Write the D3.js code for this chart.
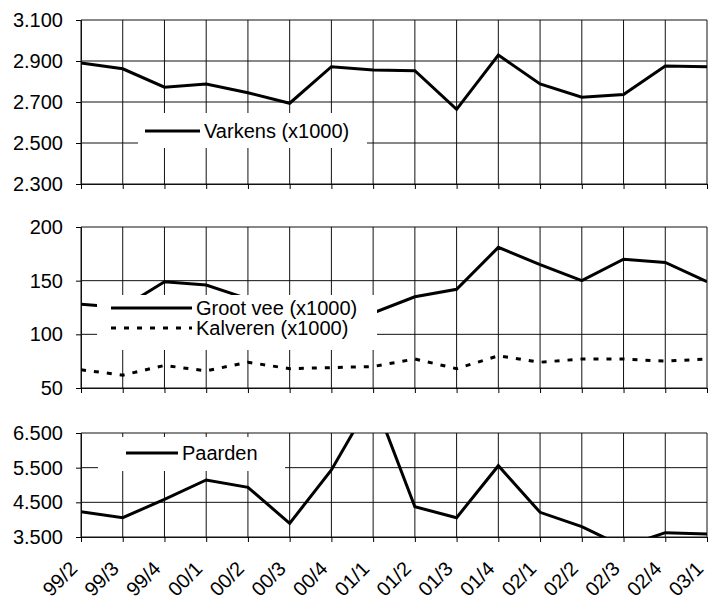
<!DOCTYPE html>
<html>
<head>
<meta charset="utf-8">
<script src="https://cdn.jsdelivr.net/npm/d3@7"></script>
<style>
  body { margin: 0; background: #fff; }
  svg { display: block; font-family: Arial, "Liberation Sans", sans-serif; }
</style>
</head>
<body>
<script>
// kwartalen
const quarters = ['99/2','99/3','99/4','00/1','00/2','00/3','00/4','01/1',
                  '01/2','01/3','01/4','02/1','02/2','02/3','02/4','03/1']

const varkens  = [2890, 2862, 2772, 2788, 2745, 2694, 2872, 2856, 2853, 2664, 2929, 2788, 2723, 2737, 2876, 2872]
const grootVee = [128, 125, 149, 146, 133, 126, 123, 120, 135, 142, 181, 165, 150, 170, 167, 149]
const kalveren = [67, 62, 71, 66, 74, 68, 69, 70, 77, 68, 80, 74, 77, 77, 75, 77]
const paarden  = [4230, 4057, 4587, 5144, 4933, 3894, 5432, 7520, 4374, 4057, 5557, 4212, 3798, 3220, 3624, 3585]

const ticksVarkens = [2300, 2500, 2700, 2900, 3100]
const ticksVee     = [50, 100, 150, 200]
const ticksPaarden = [3500, 4500, 5500, 6500]

const W = 717, H = 609
const left = 81, right = 707

const nl = d3.formatLocale({decimal: ',', thousands: '.', grouping: [3], currency: ['€', '']})
const fmt = nl.format(',d')

const svg = d3.select('body').append('svg').attr('width', W).attr('height', H)

const x = d3.scalePoint().domain(quarters).range([left, right])

// one panel = grid + axes + lines + legend
function panel(id, top, bottom, ticks, series, legend, showLabels) {
  const y = d3.scaleLinear().domain([ticks[0], ticks[ticks.length - 1]]).range([bottom, top])
  const g = svg.append('g')

  g.append('clipPath').attr('id', 'clip' + id)
    .append('rect').attr('x', left).attr('y', top).attr('width', right - left).attr('height', bottom - top)

  // vertical grid
  g.append('g').selectAll('line').data(quarters).join('line')
    .attr('x1', d => x(d)).attr('x2', d => x(d))
    .attr('y1', top).attr('y2', bottom)
    .attr('stroke', '#111').attr('stroke-width', 1)
  // horizontal grid
  g.append('g').selectAll('line').data(ticks).join('line')
    .attr('x1', left).attr('x2', right)
    .attr('y1', d => y(d)).attr('y2', d => y(d))
    .attr('stroke', '#111').attr('stroke-width', 1)

  const ya = g.append('g').attr('transform', 'translate(' + left + ',0)')
    .call(d3.axisLeft(y).tickValues(ticks).tickSize(5).tickPadding(13).tickFormat(fmt))
  ya.select('.domain').attr('stroke', '#111')
  ya.selectAll('text').attr('font-size', 20).attr('fill', '#000').attr('font-family', 'Arial, "Liberation Sans", sans-serif')

  const xa = g.append('g').attr('transform', 'translate(0,' + bottom + ')')
    .call(d3.axisBottom(x).tickSize(5))
  xa.select('.domain').attr('stroke', '#111')
  if (showLabels) {
    xa.selectAll('text')
      .attr('font-size', 20).attr('fill', '#000')
      .attr('font-family', 'Arial, "Liberation Sans", sans-serif')
      .attr('text-anchor', 'end')
      .attr('dy', 0).attr('y', 0)
      .attr('transform', 'translate(-3,33) rotate(-45)')
  } else {
    xa.selectAll('text').remove()
  }

  const line = d3.line().x((d, i) => x(quarters[i])).y(d => y(d))
  series.forEach(s => {
    g.append('path').datum(s.values)
      .attr('clip-path', 'url(#clip' + id + ')')
      .attr('d', line)
      .attr('fill', 'none').attr('stroke', '#000').attr('stroke-width', 3)
      .attr('stroke-linejoin', 'miter')
      .attr('stroke-dasharray', s.dash || null)
  })

  // legend box
  const lg = g.append('g')
  lg.append('rect').attr('x', legend.x).attr('y', legend.y).attr('width', legend.w).attr('height', legend.h)
    .attr('fill', '#fff')
  series.forEach((s, i) => {
    const ly = legend.rowY[i]
    lg.append('line').attr('x1', legend.sx1).attr('x2', legend.sx2).attr('y1', ly).attr('y2', ly)
      .attr('stroke', '#000').attr('stroke-width', 3).attr('stroke-dasharray', s.dash || null)
    lg.append('text').attr('x', legend.sx2 + 4).attr('y', ly).attr('dy', '0.35em')
      .attr('font-size', 20).text(s.name)
  })
}

panel(1, 20, 184, ticksVarkens,
  [{name: 'Varkens (x1000)', values: varkens}],
  {x: 138, y: 113, w: 229, h: 35, sx1: 145, sx2: 200, rowY: [131]}, false)

panel(2, 227, 388, ticksVee,
  [{name: 'Groot vee (x1000)', values: grootVee},
   {name: 'Kalveren (x1000)', values: kalveren, dash: '5,8'}],
  {x: 97, y: 295, w: 280, h: 55, sx1: 111, sx2: 192, rowY: [308, 328]}, false)

panel(3, 433, 537, ticksPaarden,
  [{name: 'Paarden', values: paarden}],
  {x: 98, y: 437, w: 187, h: 34, sx1: 126, sx2: 178, rowY: [453]}, true)
</script>
</body>
</html>
